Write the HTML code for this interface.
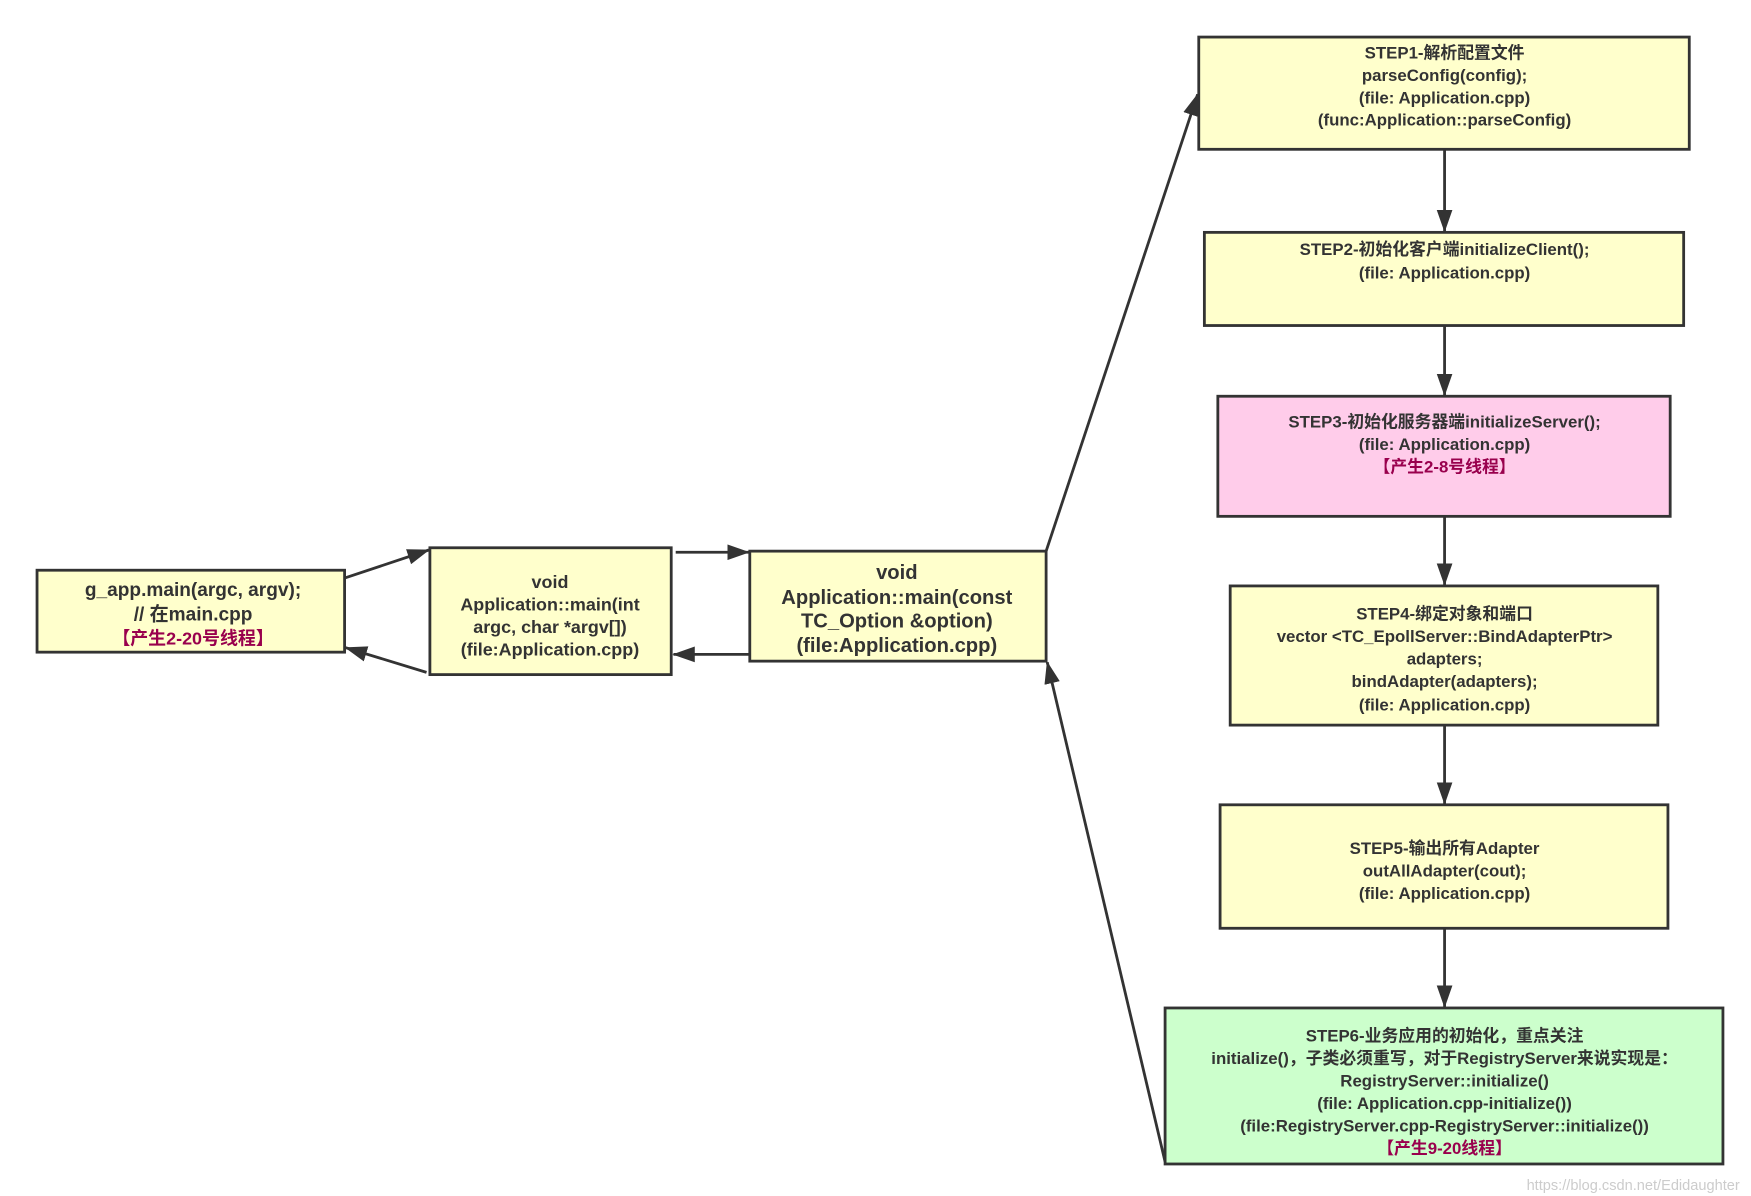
<!DOCTYPE html>
<html><head><meta charset="utf-8"><style>
html,body{margin:0;padding:0;background:#fff;}
svg{display:block}
text{font-family:"Liberation Sans","Noto Sans CJK SC",sans-serif;font-weight:bold;fill:#333;text-anchor:middle}
.r{fill:#99004d}
</style></head><body>
<svg width="1751" height="1196" viewBox="0 0 1560 1065.5" xmlns="http://www.w3.org/2000/svg">
<defs><marker id="a" markerWidth="10" markerHeight="10" refX="9" refY="5" orient="auto" markerUnits="userSpaceOnUse" viewBox="0 0 10 10"><path d="M0,0 L10,5 L0,10 z" fill="#333"/></marker>
<marker id="b" markerWidth="20" markerHeight="14" refX="19" refY="7" orient="auto" markerUnits="userSpaceOnUse" viewBox="0 0 20 14"><path d="M0,0 L20,7 L0,14 z" fill="#333"/></marker></defs>
<g stroke="#333" stroke-width="2.5">
<rect x="33" y="508" width="274" height="73" fill="#ffffcc"/>
<rect x="383" y="488" width="215" height="113" fill="#ffffcc"/>
<rect x="668" y="491" width="264" height="98" fill="#ffffcc"/>
<rect x="1068" y="33" width="437" height="100" fill="#ffffcc"/>
<rect x="1073" y="207" width="427" height="83" fill="#ffffcc"/>
<rect x="1085" y="353" width="403" height="107" fill="#ffccea"/>
<rect x="1096" y="522" width="381" height="124" fill="#ffffcc"/>
<rect x="1087" y="717" width="399" height="110" fill="#ffffcc"/>
<rect x="1038" y="898" width="497" height="139" fill="#ccffcc"/>
</g>
<g stroke="#333" stroke-width="2.5" fill="none">
<line x1="307" y1="515" x2="382" y2="490" marker-end="url(#b)"/>
<line x1="380" y1="599" x2="308" y2="577" marker-end="url(#b)"/>
<line x1="602" y1="492" x2="667" y2="492" marker-end="url(#b)"/>
<line x1="668" y1="583" x2="600" y2="583" marker-end="url(#b)"/>
<line x1="932" y1="491" x2="1067" y2="84" marker-end="url(#b)"/>
<line x1="1038" y1="1035" x2="933" y2="590" marker-end="url(#b)"/>
<line x1="1287" y1="133" x2="1287" y2="206" marker-end="url(#b)"/>
<line x1="1287" y1="290" x2="1287" y2="352" marker-end="url(#b)"/>
<line x1="1287" y1="460" x2="1287" y2="521" marker-end="url(#b)"/>
<line x1="1287" y1="646" x2="1287" y2="716" marker-end="url(#b)"/>
<line x1="1287" y1="827" x2="1287" y2="897" marker-end="url(#b)"/>
</g>
<g font-size="17"><text x="172" y="531">g_app.main(argc, argv);</text><text x="172" y="553">// 在main.cpp</text><text x="172" y="574" class="r" font-size="16">【产生2-20号线程】</text></g>
<g font-size="16"><text x="490" y="524">void</text><text x="490" y="544">Application::main(int</text><text x="490" y="564">argc, char *argv[])</text><text x="490" y="584">(file:Application.cpp)</text></g>
<g font-size="18"><text x="799" y="516">void</text><text x="799" y="538">Application::main(const</text><text x="799" y="559">TC_Option &amp;option)</text><text x="799" y="581">(file:Application.cpp)</text></g>
<g font-size="15">
<text x="1287" y="52">STEP1-解析配置文件</text><text x="1287" y="72">parseConfig(config);</text><text x="1287" y="92">(file: Application.cpp)</text><text x="1287" y="112">(func:Application::parseConfig)</text>
<text x="1287" y="227">STEP2-初始化客户端initializeClient();</text><text x="1287" y="248">(file: Application.cpp)</text>
<text x="1287" y="381">STEP3-初始化服务器端initializeServer();</text><text x="1287" y="401">(file: Application.cpp)</text><text x="1287" y="421" class="r">【产生2-8号线程】</text>
<text x="1287" y="552">STEP4-绑定对象和端口</text><text x="1287" y="572">vector &lt;TC_EpollServer::BindAdapterPtr&gt;</text><text x="1287" y="592">adapters;</text><text x="1287" y="612">bindAdapter(adapters);</text><text x="1287" y="633">(file: Application.cpp)</text>
<text x="1287" y="761">STEP5-输出所有Adapter</text><text x="1287" y="781">outAllAdapter(cout);</text><text x="1287" y="801">(file: Application.cpp)</text>
<text x="1287" y="928">STEP6-业务应用的初始化，重点关注</text><text x="1287" y="948">initialize()，子类必须重写，对于RegistryServer来说实现是：</text><text x="1287" y="968">RegistryServer::initialize()</text><text x="1287" y="988">(file: Application.cpp-initialize())</text><text x="1287" y="1008">(file:RegistryServer.cpp-RegistryServer::initialize())</text><text x="1287" y="1028" class="r">【产生9-20线程】</text>
</g>
<text x="1455" y="1060" font-size="13" style="font-weight:normal;fill:#ccc">https://blog.csdn.net/Edidaughter</text>
</svg>
</body></html>
